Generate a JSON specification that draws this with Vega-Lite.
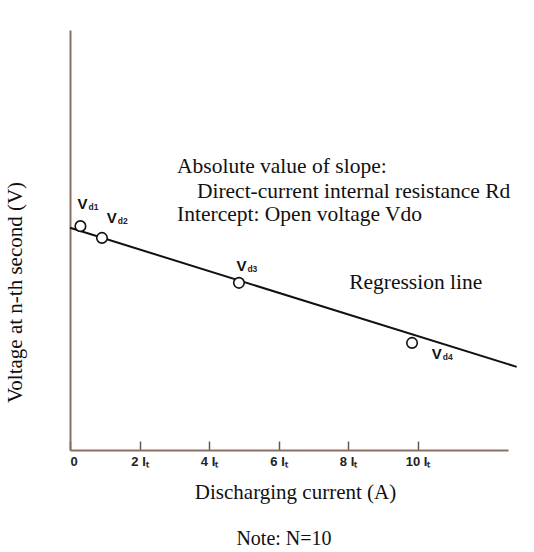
{
  "$schema": "https://vega.github.io/schema/vega-lite/v6.json",
  "width": 438,
  "height": 420,
  "autosize": "none",
  "padding": {"left": 70, "top": 30, "right": 26, "bottom": 102},
  "background": "white",
  "config": {"view": {"stroke": null}},
  "title": {"text": "Note: N=10", "orient": "bottom", "font": "Liberation Serif", "fontSize": 20, "fontWeight": "normal", "color": "#111", "offset": 27, "dx": -5},
  "datasets": {
    "reg": [{"current": 0, "voltage": 5.29}, {"current": 12.85, "voltage": 1.98}],
    "pts": [
      {"current": 0.3, "voltage": 5.33, "name": "Vd1"},
      {"current": 0.92, "voltage": 5.05, "name": "Vd2"},
      {"current": 4.86, "voltage": 3.98, "name": "Vd3"},
      {"current": 9.84, "voltage": 2.55, "name": "Vd4"}
    ],
    "labs": [
      {"current": 0.36, "voltage": 5.86, "main": "V", "sub": "d1"},
      {"current": 1.2, "voltage": 5.52, "main": "V", "sub": "d2"},
      {"current": 4.93, "voltage": 4.38, "main": "V", "sub": "d3"},
      {"current": 10.55, "voltage": 2.29, "main": "V", "sub": "d4"}
    ],
    "notes": [
      {"current": 3.08, "voltage": 6.74, "text": "Absolute value of slope:"},
      {"current": 3.65, "voltage": 6.14, "text": "Direct-current internal resistance Rd"},
      {"current": 3.08, "voltage": 5.6, "text": "Intercept: Open voltage Vdo"},
      {"current": 8.03, "voltage": 3.98, "text": "Regression line"}
    ]
  },
  "layer": [
    {
      "data": {"name": "reg"},
      "mark": {"type": "line", "color": "#111", "strokeWidth": 2},
      "encoding": {
        "x": {
          "field": "current", "type": "quantitative",
          "scale": {"domain": [0, 12.6], "nice": false, "zero": false},
          "axis": {
            "values": [0, 2, 4, 6, 8, 10],
            "labelExpr": "datum.value == 0 ? '0' : datum.value + ' Iₜ'",
            "grid": false,
            "domainColor": "#8b6f60",
            "domainWidth": 2,
            "tickColor": "#6b5548",
            "tickWidth": 1.5,
            "tickSize": -9,
            "labelPadding": 14,
            "labelFont": "Liberation Sans",
            "labelFontWeight": "bold",
            "labelFontSize": 13,
            "labelColor": "#222",
            "title": "Discharging current (A)",
            "titleFont": "Liberation Serif",
            "titleFontSize": 21,
            "titleFontWeight": "normal",
            "titleColor": "#111",
            "titlePadding": 13,
            "titleX": 225
          }
        },
        "y": {
          "field": "voltage", "type": "quantitative",
          "scale": {"domain": [0, 10], "nice": false, "zero": false},
          "axis": {
            "labels": false,
            "ticks": false,
            "grid": false,
            "domainColor": "#8b6f60",
            "domainWidth": 2,
            "title": "Voltage at n-th second (V)",
            "titleFont": "Liberation Serif",
            "titleFontSize": 21,
            "titleFontWeight": "normal",
            "titleColor": "#111",
            "titleX": -55,
            "titleY": 262,
            "titleBaseline": "middle"
          }
        }
      }
    },
    {
      "data": {"name": "pts"},
      "mark": {"type": "point", "shape": "circle", "filled": false, "fill": "white", "fillOpacity": 1, "stroke": "#111", "strokeWidth": 1.6, "size": 110},
      "encoding": {
        "x": {"field": "current", "type": "quantitative"},
        "y": {"field": "voltage", "type": "quantitative"}
      }
    },
    {
      "data": {"name": "labs"},
      "mark": {"type": "text", "font": "Liberation Sans", "fontWeight": "bold", "fontSize": 15, "color": "#111", "align": "center", "baseline": "middle"},
      "encoding": {
        "x": {"field": "current", "type": "quantitative"},
        "y": {"field": "voltage", "type": "quantitative"},
        "text": {"field": "main"}
      }
    },
    {
      "data": {"name": "labs"},
      "mark": {"type": "text", "font": "Liberation Sans", "fontWeight": "bold", "fontSize": 8.5, "color": "#222", "align": "left", "baseline": "middle", "dx": 6, "dy": 3},
      "encoding": {
        "x": {"field": "current", "type": "quantitative"},
        "y": {"field": "voltage", "type": "quantitative"},
        "text": {"field": "sub"}
      }
    },
    {
      "data": {"name": "notes"},
      "mark": {"type": "text", "font": "Liberation Serif", "fontSize": 21.5, "color": "#111", "align": "left", "baseline": "middle"},
      "encoding": {
        "x": {"field": "current", "type": "quantitative"},
        "y": {"field": "voltage", "type": "quantitative"},
        "text": {"field": "text"}
      }
    }
  ]
}
